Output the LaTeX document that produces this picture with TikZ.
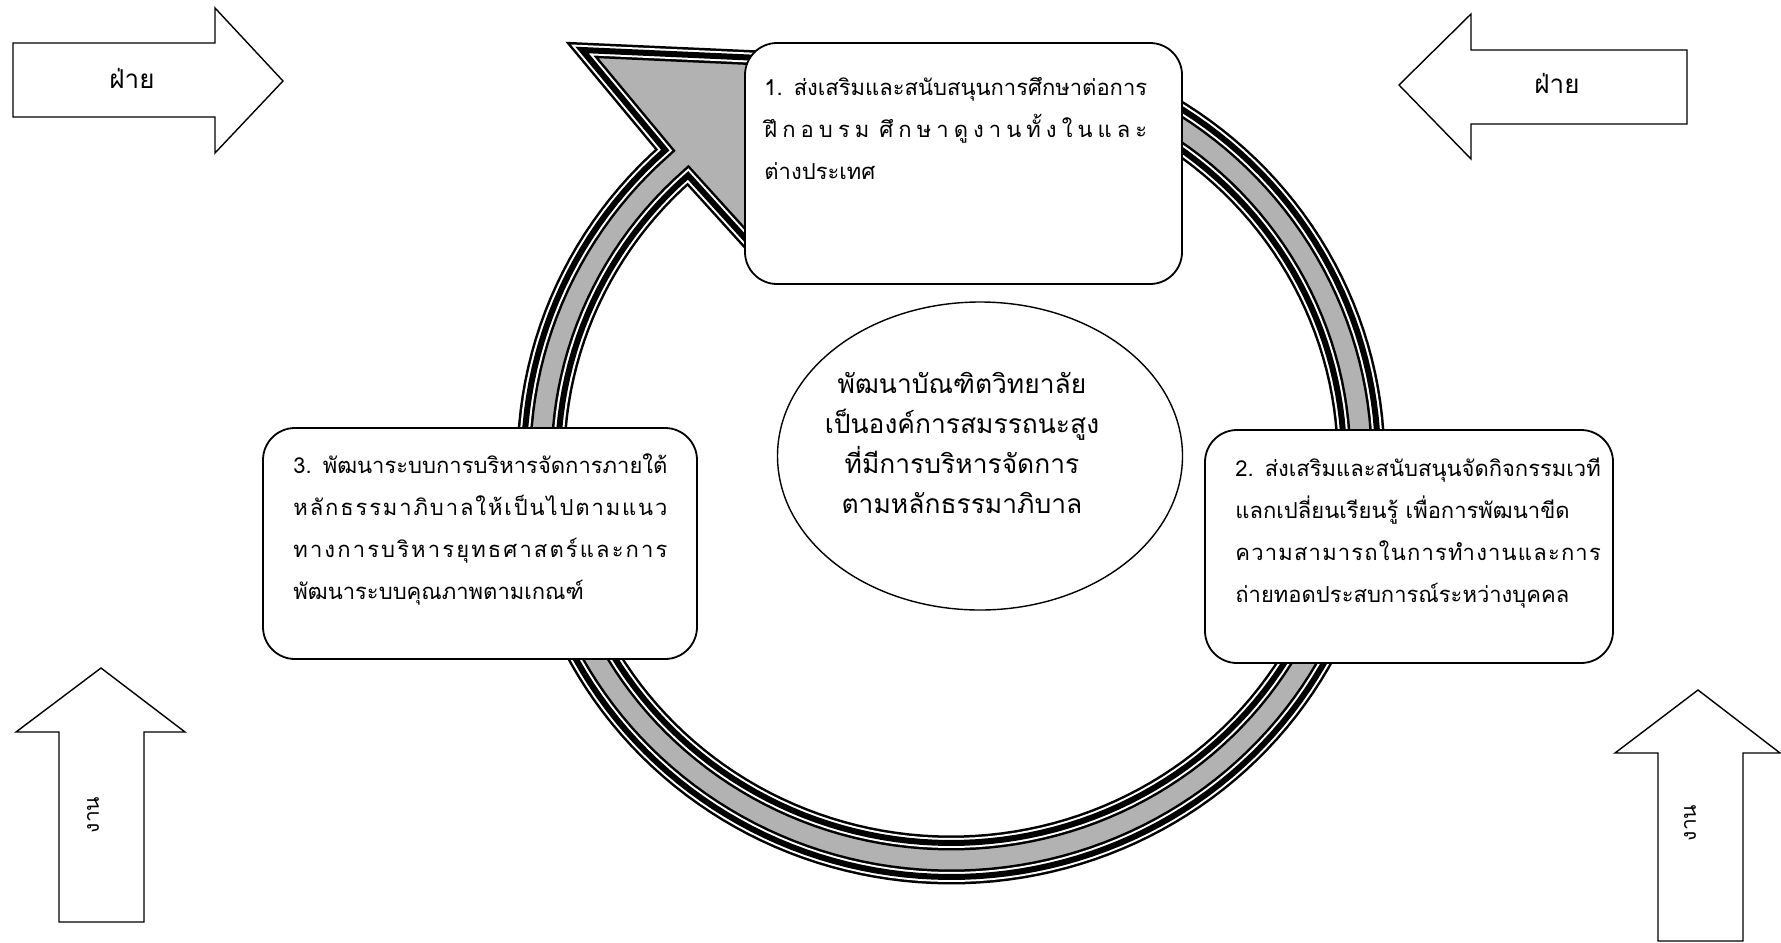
\documentclass[tikz,border=0pt]{standalone}
\usepackage{fontspec}
\newfontfamily\thaifont[Script=Thai]{Loma}
\usetikzlibrary{shapes.geometric}
\newcommand{\gap}{\hfill}
\newlength{\linew}

\tikzset{
  box/.style={draw, line width=0.9pt, rounded corners=16pt, fill=white},
  boxtext/.style={anchor=base west, align=left, inner sep=0pt, text width=215pt,
    font=\thaifont\fontsize{11}{21}\selectfont},
  goaltext/.style={align=center, inner sep=0pt,
    font=\thaifont\fontsize{13.2}{20}\selectfont},
  blockarrow/.style={draw, line width=0.7pt, line join=miter, fill=white},
  arrowtext/.style={font=\thaifont\fontsize{13}{15}\selectfont}
}

\begin{document}
\begin{tikzpicture}[x=0.5pt, y=-0.5pt]
		\useasboundingbox (0,0) rectangle (1781,942);

		% the circular arrow
		\foreach \w/\c/\f in {7.5pt/black/black!30, 5pt/white/none, 3pt/black/none}
		  \path[draw=\c, fill=\f, line width=\w, line join=miter]
		    plot[domain=-65:228, samples=150] ({951+427*cos(\x)},{460+417*sin(\x)})
		    -- (582,50) -- (894,64) -- (772,268)
		    -- plot[domain=228:-65, samples=150] ({951+393*cos(\x)},{460+383*sin(\x)}) -- cycle;

		\node[box, minimum width=218.5pt, minimum height=120.5pt] (b1) at (963.5,163.5) {};
		\node[box, minimum width=204pt, minimum height=116.5pt] (b2) at (1409,546.5) {};
		\node[box, minimum width=217pt, minimum height=115.5pt] (b3) at (480,543.5) {};

		\node[boxtext] (t1) at (764,95) {\settowidth{\linew}{1. ส่งเสริมและสนับสนุนการศึกษาต่อการ}%
		  1. ส่งเสริมและสนับสนุนการศึกษาต่อการ\\
		  \makebox[\linew][s]{ฝึ\gap ก\gap อ\gap บ\gap ร\gap ม\gap\gap ศึ\gap ก\gap ษ\gap า\gap ดู\gap ง\gap า\gap น\gap ทั้\gap ง\gap ใ\gap น\gap แ\gap ล\gap ะ}\\
		  ต่างประเทศ};
		\node[boxtext] (t2) at (1235,476) {\settowidth{\linew}{2. ส่งเสริมและสนับสนุนจัดกิจกรรมเวที}%
		  2. ส่งเสริมและสนับสนุนจัดกิจกรรมเวที\\
		  \makebox[\linew][s]{แลกเปลี่ยนเรียนรู้ เพื่อการพัฒนาขีด}\\
		  \makebox[\linew][s]{ค\gap ว\gap า\gap ม\gap ส\gap า\gap ม\gap า\gap ร\gap ถ\gap ใ\gap น\gap ก\gap า\gap ร\gap ทำ\gap ง\gap า\gap น\gap แ\gap ล\gap ะ\gap ก\gap า\gap ร}\\
		  ถ่ายทอดประสบการณ์ระหว่างบุคคล};
		\node[boxtext] (t3) at (293,473) {\settowidth{\linew}{3. พัฒนาระบบการบริหารจัดการภายใต้}%
		  3. พัฒนาระบบการบริหารจัดการภายใต้\\
		  \makebox[\linew][s]{ห\gap ลั\gap ก\gap ธ\gap ร\gap ร\gap ม\gap า\gap ภิ\gap บ\gap า\gap ล\gap ใ\gap ห้\gap เ\gap ป็\gap น\gap ไ\gap ป\gap ต\gap า\gap ม\gap แ\gap น\gap ว}\\
		  \makebox[\linew][s]{ท\gap า\gap ง\gap ก\gap า\gap ร\gap บ\gap ริ\gap ห\gap า\gap ร\gap ยุ\gap ท\gap ธ\gap ศ\gap า\gap ส\gap ต\gap ร์\gap แ\gap ล\gap ะ\gap ก\gap า\gap ร}\\
		  พัฒนาระบบคุณภาพตามเกณฑ์};

		\node[draw, ellipse, line width=0.7pt, minimum width=202.5pt, minimum height=154pt] (goal) at (980,456) {};
		\node[goaltext] (gt) at (962,443) {พัฒนาบัณฑิตวิทยาลัย\\ เป็นองค์การสมรรถนะสูง\\ ที่มีการบริหารจัดการ\\ ตามหลักธรรมาภิบาล};

		% the four block arrows
		\draw[blockarrow] (13,43) -- (215,43) -- (215,8) -- (283,81) -- (215,153) -- (215,117) -- (13,117) -- cycle;
		\draw[blockarrow] (1687,50) -- (1471,50) -- (1471,14) -- (1399,85) -- (1471,159) -- (1471,124) -- (1687,124) -- cycle;
		\draw[blockarrow] (59,922) -- (59,732) -- (16,732) -- (101,668) -- (185,732) -- (144,732) -- (144,922) -- cycle;
		\draw[blockarrow] (1658,941) -- (1658,753) -- (1615,753) -- (1698,690) -- (1780,753) -- (1743,753) -- (1743,941) -- cycle;

		\node[arrowtext] (fl) at (132,78) {ฝ่าย};
		\node[arrowtext] (fr) at (1557,83) {ฝ่าย};
		\node[arrowtext, font=\thaifont\fontsize{10.5}{12}\selectfont, rotate=90] (gl) at (93,815) {งาน};
		\node[arrowtext, font=\thaifont\fontsize{10.5}{12}\selectfont, rotate=90] (gr) at (1690,823) {งาน};
\end{tikzpicture}
\end{document}
